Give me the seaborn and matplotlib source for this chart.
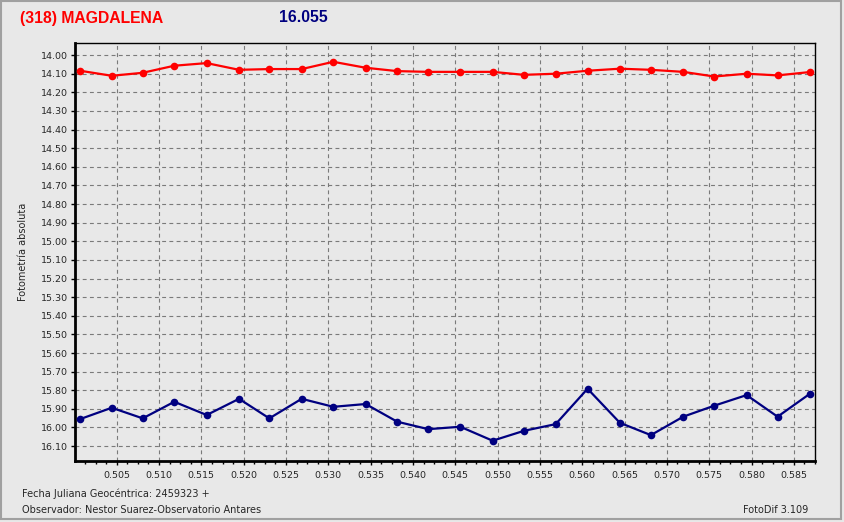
# ============================================================= #
#
# Plot FotoDif light curve: (318) Magdalena
#
# ============================================================= #
#
import numpy as np
import pandas as pd
import matplotlib
matplotlib.use('Agg')
import matplotlib.pyplot as plt
from matplotlib.patches import Rectangle
from matplotlib.ticker import MultipleLocator, FormatStrFormatter
import seaborn as sns
#
# ============================================================= #
#
# Data
#
# Julian date fraction (JD - 2459323)
jd_frac = [0.50067, 0.50441, 0.50807, 0.51180, 0.51563, 0.51945,
           0.52303, 0.52685, 0.53059, 0.53441, 0.53814, 0.54181,
           0.54559, 0.54941, 0.55311, 0.55686, 0.56063, 0.56445,
           0.56811, 0.57193, 0.57559, 0.57942, 0.58308, 0.58689]
#
# Comparison star (red)
mag_comp = [14.084, 14.111, 14.095, 14.057, 14.043, 14.079,
            14.075, 14.075, 14.036, 14.068, 14.086, 14.090,
            14.090, 14.090, 14.106, 14.100, 14.084, 14.073,
            14.079, 14.090, 14.115, 14.100, 14.109, 14.091]
#
# Asteroid (navy)
mag_ast = [15.955, 15.894, 15.951, 15.862, 15.933, 15.846,
           15.951, 15.846, 15.889, 15.874, 15.969, 16.009,
           15.996, 16.071, 16.018, 15.982, 15.792, 15.975,
           16.041, 15.942, 15.883, 15.826, 15.942, 15.819]
#
title_obj = '(318) MAGDALENA'
title_mag = '16.055'
ylabel = 'Fotometría absoluta'
footer1 = 'Fecha Juliana Geocéntrica: 2459323 +'
footer2 = 'Observador: Nestor Suarez-Observatorio Antares'
footer3 = 'FotoDif 3.109'
#
# ============================================================= #
#
# Plot
#
bgcol = '#e8e8e8'
sns.set_style('white')
plt.rcParams['font.family'] = ['DejaVu Sans']

df = pd.DataFrame({'jd': jd_frac, 'comp': mag_comp, 'ast': mag_ast})

fig = plt.figure(figsize=(8.44, 5.22), dpi=100, facecolor=bgcol)
ax = fig.add_axes([75/844, 1-461/522, 740/844, 418/522])
ax.set_facecolor(bgcol)

sns.lineplot(data=df, x='jd', y='comp', ax=ax, color='#ff0000', lw=1.6,
             marker='o', markersize=5.5, markeredgewidth=0, sort=False,
             estimator=None, zorder=3)
sns.lineplot(data=df, x='jd', y='ast', ax=ax, color='#000080', lw=1.6,
             marker='o', markersize=5.5, markeredgewidth=0, sort=False,
             estimator=None, zorder=3)

ax.set_xlim(0.50007, 0.5875)
ax.set_ylim(16.18, 13.935)

ax.xaxis.set_major_locator(MultipleLocator(0.005))
ax.xaxis.set_minor_locator(MultipleLocator(0.00125))
ax.xaxis.set_major_formatter(FormatStrFormatter('%.3f'))
ax.yaxis.set_major_locator(MultipleLocator(0.1))
ax.yaxis.set_major_formatter(FormatStrFormatter('%.2f'))

ax.grid(True, which='major', color='#7a7a7a', lw=0.8, ls=(0, (3.5, 3)))
ax.set_axisbelow(True)

ax.tick_params(axis='both', which='major', direction='out', length=3,
               width=1, color='black', labelsize=6.8, pad=2,
               bottom=True, left=True)
ax.tick_params(axis='x', which='minor', direction='out', length=2,
               width=1, color='black', bottom=True)
ax.tick_params(axis='x', which='major', pad=4)

for s in ['left', 'bottom']:
    ax.spines[s].set_linewidth(2)
for s in ['top', 'right']:
    ax.spines[s].set_linewidth(1)
for s in ax.spines.values():
    s.set_color('black')

ax.set_xlabel('')
ax.set_ylabel(ylabel, fontsize=7)
ax.yaxis.set_label_coords(-47/740, 0.5)

# Header and footer texts
fig.text(20/844, 1-18/522, title_obj, color='#ff0000', fontsize=11.3,
         fontweight='bold', family='Liberation Sans', va='center')
fig.text(279/844, 1-18/522, title_mag, color='#000080', fontsize=11.3,
         fontweight='bold', family='Liberation Sans', va='center')
fig.text(22/844, 1-494/522, footer1, fontsize=7, va='center')
fig.text(22/844, 1-510/522, footer2, fontsize=7, va='center')
fig.text(808/844, 1-510/522, footer3, fontsize=7, va='center', ha='right')

# Window frame
fig.patches.append(Rectangle((1/844, 3/522), 840/844, 518/522,
                             transform=fig.transFigure, fill=False,
                             edgecolor='#a0a0a0', lw=1.5))

plt.savefig('out.png', dpi=100, facecolor=bgcol)
plt.close()
#
# ============================================================= #
